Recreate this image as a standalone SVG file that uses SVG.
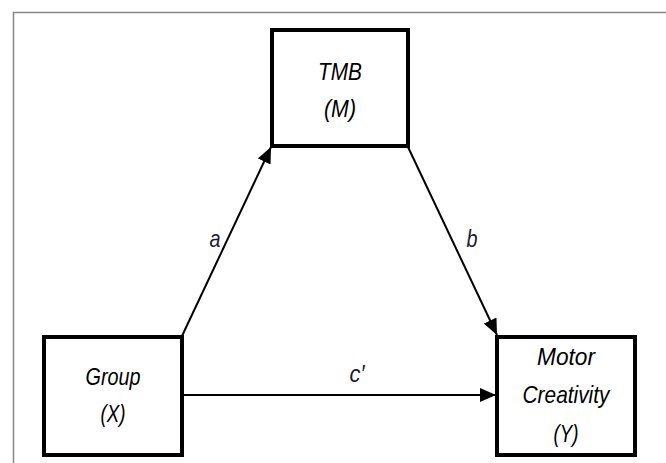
<svg xmlns="http://www.w3.org/2000/svg" width="666" height="463" viewBox="0 0 666 463">
<style>
.box{fill:#fff;stroke:#000;stroke-width:4}
.t{font-family:"Liberation Sans",Arial,sans-serif;font-style:italic;font-size:24px;fill:#000;text-anchor:middle}
.lbl{font-family:"Liberation Sans",Arial,sans-serif;font-style:italic;font-size:24px;fill:#1a1a2e;text-anchor:middle}
.conn{stroke:#000;stroke-width:2;fill:none}
</style>
<defs>
<marker id="arr" viewBox="0 0 16 14" refX="16" refY="7" markerWidth="16" markerHeight="14" markerUnits="userSpaceOnUse" orient="auto">
<path d="M0,0 L16,7 L0,14 z" fill="#000"/>
</marker>
</defs>
<rect x="0" y="0" width="666" height="463" fill="#fff"/>
<path d="M13.5,463 L13.5,12.5 L666,12.5" fill="none" stroke="#888" stroke-width="1.5"/>
<g id="connectors">
<line class="conn" x1="182" y1="336" x2="271" y2="147" marker-end="url(#arr)"/>
<line class="conn" x1="408" y1="147" x2="497" y2="335" marker-end="url(#arr)"/>
<line class="conn" x1="182" y1="395" x2="496" y2="395" marker-end="url(#arr)"/>
<text class="lbl" x="215" y="247" textLength="11" lengthAdjust="spacingAndGlyphs">a</text>
<text class="lbl" x="472" y="247" textLength="11" lengthAdjust="spacingAndGlyphs">b</text>
<text class="lbl" x="357" y="382" textLength="15" lengthAdjust="spacingAndGlyphs">c′</text>
</g>
<g id="mediator">
<rect class="box" x="272" y="30" width="136" height="116"/>
<text class="t" x="340" y="80" textLength="44" lengthAdjust="spacingAndGlyphs">TMB</text>
<text class="t" x="340" y="117" textLength="32" lengthAdjust="spacingAndGlyphs">(M)</text>
</g>
<g id="group">
<rect class="box" x="44" y="337" width="138" height="118"/>
<text class="t" x="113" y="385" textLength="55" lengthAdjust="spacingAndGlyphs">Group</text>
<text class="t" x="113" y="422" textLength="25" lengthAdjust="spacingAndGlyphs">(X)</text>
</g>
<g id="outcome">
<rect class="box" x="497" y="337" width="138" height="118"/>
<text class="t" x="566" y="365" textLength="58" lengthAdjust="spacingAndGlyphs">Motor</text>
<text class="t" x="566" y="403" textLength="87" lengthAdjust="spacingAndGlyphs">Creativity</text>
<text class="t" x="566" y="442" textLength="25" lengthAdjust="spacingAndGlyphs">(Y)</text>
</g>
</svg>
